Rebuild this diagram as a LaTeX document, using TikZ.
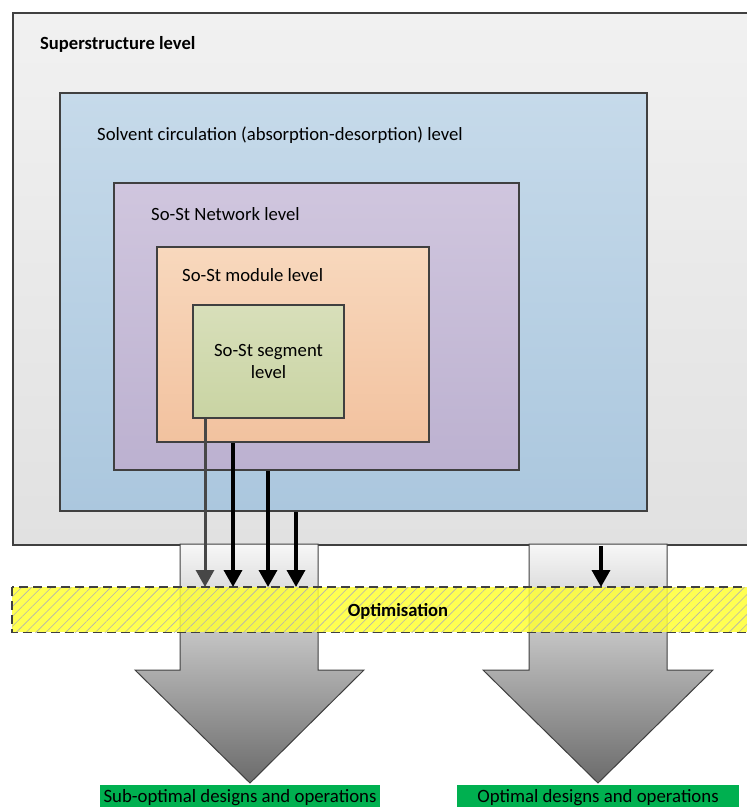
\documentclass[tikz,border=0pt]{standalone}
\usepackage{fontspec}
\setmainfont{Carlito}
\usetikzlibrary{patterns.meta,arrows.meta}
\definecolor{boxline}{HTML}{404040}
\definecolor{supTop}{HTML}{F1F1F1}
\definecolor{supBot}{HTML}{E1E1E1}
\definecolor{solTop}{HTML}{C6DAEA}
\definecolor{solBot}{HTML}{ABC7DE}
\definecolor{netTop}{HTML}{D0C6DE}
\definecolor{netBot}{HTML}{BCB1D0}
\definecolor{modTop}{HTML}{F8D8BD}
\definecolor{modBot}{HTML}{F2C29F}
\definecolor{segTop}{HTML}{D8DFBA}
\definecolor{segBot}{HTML}{C9D4A3}
\definecolor{optYellow}{HTML}{FFFF33}
\definecolor{resGreen}{HTML}{00B050}
\tikzset{
  lvl/.style={draw=boxline, line width=2pt, inner sep=0pt, anchor=north west},
  lbl/.style={anchor=base west, inner sep=0pt, font=\fontsize{18.7}{22}\selectfont},
  blackarr/.style={-{Triangle[length=17pt,width=18pt]}, line width=3.5pt, black},
  grayarr/.style={-{Triangle[length=17pt,width=18pt]}, line width=3pt, black!72},
  bigarrow/.style={draw=boxline, line width=1pt, top color=white!97!black, middle color=white!78!black, bottom color=white!42!black},
  restext/.style={anchor=base, inner sep=0pt, text=black, font=\fontsize{18.8}{22}\selectfont}
}
\begin{document}
\begin{tikzpicture}[x=1pt,y=-1pt]
\useasboundingbox (0,0) rectangle (747,807);
\begin{scope}
\clip (0,0) rectangle (747,807);
% superstructure
\node[lvl, minimum width=760pt, minimum height=532pt, top color=supTop, bottom color=supBot] (sup) at (12,12) {};
\node[lbl, font=\fontsize{18.6}{22}\selectfont\bfseries] (supt) at (40,49) {Superstructure level};
% solvent
\node[lvl, minimum width=587pt, minimum height=418pt, top color=solTop, bottom color=solBot] (sol) at (59,92) {};
\node[lbl] (solt) at (97,140) {Solvent circulation (absorption-desorption) level};
% network
\node[lvl, minimum width=405pt, minimum height=287pt, top color=netTop, bottom color=netBot] (net) at (113,182) {};
\node[lbl] (nett) at (151,220) {So-St Network level};
% module
\node[lvl, minimum width=272pt, minimum height=195pt, top color=modTop, bottom color=modBot] (mod) at (156,246) {};
\node[lbl] (modt) at (182,281) {So-St module level};
% segment
\node[lvl, minimum width=151pt, minimum height=113pt, top color=segTop, bottom color=segBot] (seg) at (192,304) {};
\node[align=center, inner sep=0pt, font=\fontsize{18.7}{22}\selectfont] (segt) at (seg.center) {So-St segment\\level};
% big arrows
\path[bigarrow] (180,544) coordinate (la1) -- (318,544) -- (318,670) -- (364,670) -- (250,783) coordinate (ltip) -- (135,670) -- (180,670) -- cycle;
\path[bigarrow] (529,544) coordinate (ra1) -- (667,544) -- (667,670) -- (713,670) -- (598,783) coordinate (rtip) -- (483,670) -- (529,670) -- cycle;
% optimisation band
\node[anchor=north west, minimum width=760pt, minimum height=45pt, inner sep=0pt,
      fill=optYellow, fill opacity=0.85,
      postaction={pattern={Lines[angle=45,distance=7pt,line width=0.6pt]}, pattern color=black!30}] (opt) at (12,587) {};
\draw[boxline, line width=1.6pt, dash pattern=on 9pt off 5pt] (opt.north west) rectangle (opt.south east);
\node[anchor=base, inner sep=0pt, font=\fontsize{18.6}{22}\selectfont\bfseries] (optt) at (398,616) {Optimisation};
\end{scope}
% level arrows
\draw[grayarr] ([xshift=13pt]seg.south west) coordinate (g1) -- (g1 |- opt.north);
\draw[blackarr] ([xshift=77pt]mod.south west) coordinate (b1) -- (b1 |- opt.north);
\draw[blackarr] ([xshift=155pt]net.south west) coordinate (b2) -- (b2 |- opt.north);
\draw[blackarr] ([xshift=237pt]sol.south west) coordinate (b3) -- (b3 |- opt.north);
\draw[blackarr] ([xshift=589pt]sup.south west) coordinate (b4) -- (b4 |- opt.north);
% results
\begin{scope}
\clip (0,0) rectangle (747,807);
\fill[resGreen] (100,785) rectangle (380,812);
\fill[resGreen] (457,785) rectangle (739,812);
\node[restext] (subopt) at (240,802) {Sub-optimal designs and operations};
\node[restext] (optres) at (598,802) {Optimal designs and operations};
\end{scope}
\end{tikzpicture}
\end{document}
